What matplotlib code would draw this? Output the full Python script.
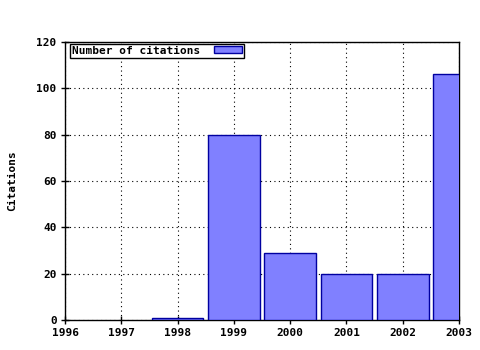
import matplotlib.pyplot as plt

years = [1996, 1997, 1998, 1999, 2000, 2001, 2002, 2003]
citations = [0, 0, 1, 80, 29, 20, 20, 106]

plt.rcParams['font.family'] = 'DejaVu Sans Mono'
plt.rcParams['font.weight'] = 'bold'
plt.rcParams['axes.labelweight'] = 'bold'
plt.rcParams['font.size'] = 8

fig = plt.figure(figsize=(4.8, 3.5), dpi=100)
ax = fig.add_axes([65/480, 30/350, 394/480, 278/350])

# zero years have no visible bar in the original
xs = [y for y, c in zip(years, citations) if c > 0]
cs = [c for c in citations if c > 0]
ax.bar(xs, cs, width=0.92, color='#8080ff', edgecolor='#0000a0',
       linewidth=1, label='Number of citations', zorder=3)

ax.set_xlim(1996, 2003)
ax.set_ylim(0, 120)
ax.set_xticks(years)
ax.set_yticks(range(0, 121, 20))
ax.grid(True, color='black', linestyle=(0, (1, 3)), linewidth=0.8, zorder=0)
ax.tick_params(direction='inout', length=6, width=1, colors='black', pad=3)
ax.set_ylabel('Citations', labelpad=14)

for s in ax.spines.values():
    s.set_linewidth(1)

leg = ax.legend(loc='upper left', bbox_to_anchor=(5/394, 1 - 1.5/278),
                fancybox=False, framealpha=1, edgecolor='black',
                borderpad=0.2, handlelength=2.5, handleheight=0.6,
                handletextpad=1.2, borderaxespad=0, markerfirst=False)
leg.get_frame().set_linewidth(1)

fig.savefig('out.png', dpi=100)
